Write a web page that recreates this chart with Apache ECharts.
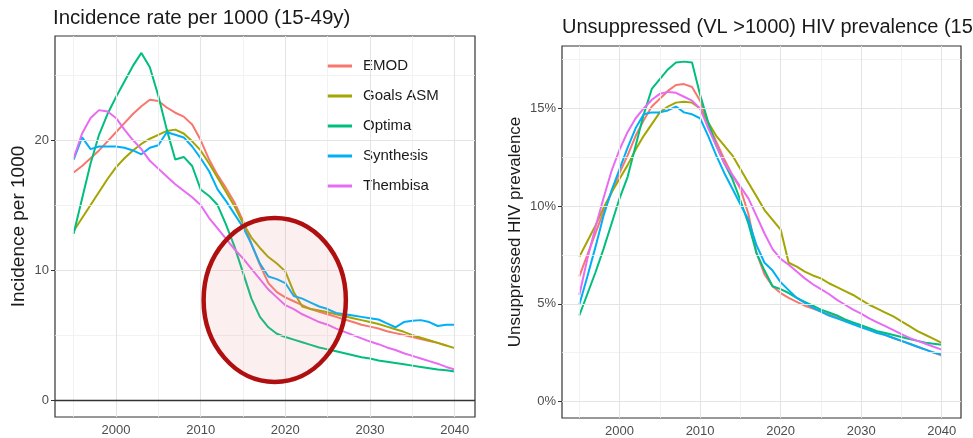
<!DOCTYPE html>
<html><head><meta charset="utf-8">
<script src="https://cdn.jsdelivr.net/npm/echarts@6/dist/echarts.min.js"></script>
<style>html,body{margin:0;padding:0;background:#fff}#c{width:973px;height:438px}</style>
</head><body><div id="c"></div><script>
const years = [1995,1996,1997,1998,1999,2000,2001,2002,2003,2004,2005,2006,2007,2008,2009,2010,2011,2012,2013,2014,2015,2016,2017,2018,2019,2020,2021,2022,2023,2024,2025,2026,2027,2028,2029,2030,2031,2032,2033,2034,2035,2036,2037,2038,2039,2040];
const seriesNames = ['EMOD','Goals ASM','Optima','Synthesis','Thembisa'];
const colors = ['#F8766D','#A3A500','#00BF7D','#00B0F6','#E76BF3'];

// Incidence rate per 1000 (15-49y)
const incEMOD = [17.5,18.0,18.6,19.2,19.9,20.6,21.3,22.0,22.6,23.1,23.0,22.5,22.1,21.8,21.2,20.0,18.5,17.3,16.3,15.2,13.8,12.0,10.4,9.0,8.3,7.9,7.6,7.3,7.0,6.8,6.6,6.4,6.2,6.0,5.8,5.65,5.5,5.3,5.15,5.0,4.85,4.7,4.55,4.4,4.2,null];
const incGoals = [13.0,14.0,15.0,16.0,17.0,17.9,18.6,19.2,19.7,20.1,20.4,20.7,20.8,20.5,19.9,19.2,18.2,17.1,16.0,14.9,13.6,12.5,11.7,11.0,10.5,9.9,8.3,7.2,7.0,6.9,6.75,6.6,6.45,6.3,6.15,6.0,5.85,5.65,5.45,5.25,5.0,4.8,4.6,4.4,4.2,4.0];
const incOptima = [12.8,15.5,18.2,20.4,22.0,23.3,24.5,25.7,26.7,25.6,23.4,20.8,18.5,18.7,18.0,16.2,15.7,15.0,13.5,11.8,9.8,7.8,6.4,5.6,5.1,4.85,4.65,4.45,4.25,4.05,3.9,3.75,3.6,3.45,3.3,3.2,3.05,2.95,2.85,2.75,2.65,2.55,2.45,2.35,2.3,2.2];
const incSynthesis = [18.5,20.2,19.3,19.5,19.5,19.5,19.4,19.2,18.9,19.4,19.6,20.6,20.4,20.2,19.5,18.6,17.6,16.2,15.3,14.3,13.3,12.0,10.5,9.5,9.3,9.0,8.0,7.8,7.5,7.2,7.0,6.7,6.6,6.5,6.4,6.3,6.2,5.9,5.6,6.0,6.1,6.15,6.0,5.7,5.8,5.8];
const incThembisa = [18.6,20.5,21.7,22.3,22.2,21.7,20.8,20.0,19.3,18.4,17.8,17.2,16.6,16.1,15.6,15.0,14.0,13.2,12.4,11.6,10.9,10.1,9.3,8.5,7.9,7.3,7.0,6.6,6.3,6.0,5.8,5.5,5.25,5.0,4.75,4.5,4.3,4.05,3.85,3.6,3.4,3.2,3.0,2.8,2.55,2.35];

// Unsuppressed (VL >1000) HIV prevalence, %
const prevEMOD = [6.4,7.5,8.6,9.7,10.7,11.7,12.6,13.6,14.4,15.1,15.5,15.9,16.2,16.25,16.1,15.4,14.2,13.3,12.4,11.6,10.9,9.6,7.6,6.5,5.9,5.55,5.3,5.1,4.9,4.75,4.6,4.45,4.3,4.15,4.0,3.85,3.7,3.55,3.4,3.25,3.1,2.95,2.8,2.65,2.5,2.35];
const prevGoals = [7.4,8.2,9.0,9.9,10.7,11.4,12.1,12.9,13.6,14.2,14.8,15.1,15.3,15.35,15.3,15.0,14.3,13.6,13.1,12.6,11.9,11.2,10.5,9.8,9.3,8.8,7.1,6.9,6.65,6.45,6.3,6.05,5.85,5.65,5.45,5.2,4.95,4.75,4.55,4.35,4.1,3.85,3.6,3.4,3.2,3.0];
const prevOptima = [4.4,5.5,6.6,7.8,9.1,10.4,11.5,13.1,14.7,16.0,16.5,17.0,17.35,17.4,17.35,15.7,14.3,13.1,12.2,11.4,10.3,9.1,7.6,6.7,5.9,5.75,5.55,5.3,5.1,4.9,4.7,4.55,4.4,4.2,4.05,3.9,3.75,3.6,3.5,3.4,3.3,3.2,3.1,3.0,2.95,2.9];
const prevSynthesis = [4.95,6.4,7.9,9.5,10.8,11.9,13.0,14.0,14.7,14.8,14.8,14.9,15.1,14.8,14.7,14.5,13.6,12.6,11.7,10.9,10.1,9.3,8.0,7.1,6.7,6.1,5.7,5.3,5.05,4.8,4.6,4.4,4.25,4.1,3.95,3.8,3.65,3.5,3.4,3.25,3.1,2.95,2.8,2.65,2.5,2.4];
const prevThembisa = [5.45,7.3,8.9,10.4,11.8,12.9,13.8,14.5,15.0,15.45,15.75,15.85,15.8,15.6,15.4,15.0,14.0,13.1,12.2,11.6,11.0,10.4,9.5,8.6,7.8,7.3,7.0,6.65,6.3,6.0,5.75,5.5,5.2,4.95,4.7,4.5,4.25,4.05,3.85,3.65,3.45,3.25,3.1,2.95,2.8,2.65];

const xTicks = [2000,2010,2020,2030,2040];
const xMinor = [1995,2005,2015,2025,2035];
const incTicks = [0,10,20];
const incMinor = [5,15,25];
const prevTicks = [0,5,10,15];
const prevMinor = [2.5,7.5,12.5,17.5];

const incData = [incEMOD,incGoals,incOptima,incSynthesis,incThembisa];
const prevData = [prevEMOD,prevGoals,prevOptima,prevSynthesis,prevThembisa];

const FONT = '"Liberation Sans", Arial, sans-serif';
const chart = echarts.init(document.getElementById('c'), null, {renderer:'canvas'});

function gridLines(idx, xMaj, xMin, yMaj, yMin, zeroDark) {
  const d = [];
  xMin.forEach(v => d.push({xAxis: v, lineStyle: {color:'#efefef', width:0.8, type:'solid'}}));
  yMin.forEach(v => d.push({yAxis: v, lineStyle: {color:'#efefef', width:0.8, type:'solid'}}));
  xMaj.forEach(v => d.push({xAxis: v, lineStyle: {color:'#e4e4e4', width:1.1, type:'solid'}}));
  yMaj.forEach(v => d.push({yAxis: v, lineStyle: zeroDark && v === 0 ? {color:'#333333', width:1.3, type:'solid'} : {color:'#e4e4e4', width:1.1, type:'solid'}}));
  return {
    type:'line', name:'_grid'+idx, xAxisIndex: idx, yAxisIndex: idx, data: [], silent: true, z: 1,
    markLine: {silent:true, symbol:['none','none'], label:{show:false}, animation:false, data: d}
  };
}

function mk(arr, i, g) {
  return {
    type:'line', name: seriesNames[i], xAxisIndex:g, yAxisIndex:g,
    data: years.map((y,k)=>[y, arr[k]]),
    symbol:'none', showSymbol:false, smooth:false, connectNulls:false, z: 3,
    lineStyle:{width:2, color: colors[i]}, itemStyle:{color: colors[i]},
    emphasis:{disabled:true}, animation:false
  };
}

const axisLabelStyle = {color:'#4d4d4d', fontSize:13, fontFamily: FONT};
const series = [gridLines(0, xTicks, xMinor, incTicks, incMinor, true), gridLines(1, xTicks, xMinor, prevTicks, prevMinor, false)];
incData.forEach((a,i)=>series.push(mk(a,i,0)));
prevData.forEach((a,i)=>series.push(mk(a,i,1)));

chart.setOption({
  animation:false,
  backgroundColor:'#ffffff',
  title: [
    {text:'Incidence rate per 1000 (15-49y)', left:53, top:8, padding:0, textStyle:{fontSize:20.5, fontWeight:'normal', color:'#1a1a1a', fontFamily:FONT}},
    {text:'Unsuppressed (VL >1000) HIV prevalence (15-49y)', left:562, top:17, padding:0, textStyle:{fontSize:20, fontWeight:'normal', color:'#1a1a1a', fontFamily:FONT}}
  ],
  legend: {
    data: seriesNames, orient:'vertical', left:327, top:58.5, padding:0, icon:'rect',
    itemWidth:25, itemHeight:3, itemGap:15,
    textStyle:{fontSize:15, color:'#1a1a1a', fontFamily:FONT, lineHeight:15, padding:[0,0,0,6]},
    selectedMode:false
  },
  grid: [
    {left:55, top:36, width:420, height:381, show:true, borderColor:'#333333', borderWidth:1.2, backgroundColor:'transparent', containLabel:false},
    {left:562, top:46, width:399, height:372, show:true, borderColor:'#333333', borderWidth:1.2, backgroundColor:'transparent', containLabel:false}
  ],
  xAxis: [
    {type:'value', gridIndex:0, min:1992.8, max:2042.4, axisLine:{show:false}, splitLine:{show:false},
     axisTick:{show:true, length:4, lineStyle:{color:'#333'}, customValues: xTicks},
     axisLabel:Object.assign({customValues: xTicks, margin:7, formatter: v => String(v)}, axisLabelStyle)},
    {type:'value', gridIndex:1, min:1992.85, max:2042.4, axisLine:{show:false}, splitLine:{show:false},
     axisTick:{show:true, length:4, lineStyle:{color:'#333'}, customValues: xTicks},
     axisLabel:Object.assign({customValues: xTicks, margin:7, formatter: v => String(v)}, axisLabelStyle)}
  ],
  yAxis: [
    {type:'value', gridIndex:0, min:-1.3, max:28.0, axisLine:{show:false}, splitLine:{show:false},
     axisTick:{show:true, length:4, lineStyle:{color:'#333'}, customValues: incTicks},
     axisLabel:Object.assign({customValues: incTicks, margin:6}, axisLabelStyle),
     name:'Incidence per 1000', nameLocation:'middle', nameGap:27, nameRotate:90,
     nameTextStyle:{fontSize:19, color:'#1a1a1a', fontFamily:FONT}},
    {type:'value', gridIndex:1, min:-0.85, max:18.2, axisLine:{show:false}, splitLine:{show:false},
     axisTick:{show:true, length:4, lineStyle:{color:'#333'}, customValues: prevTicks},
     axisLabel:Object.assign({customValues: prevTicks, margin:6, formatter: v => v + '%'}, axisLabelStyle),
     name:'Unsuppressed HIV prevalence', nameLocation:'middle', nameGap:38, nameRotate:90,
     nameTextStyle:{fontSize:17, color:'#1a1a1a', fontFamily:FONT}}
  ],
  series: series
});

// Highlight ellipse on the incidence panel (anchored in data space)
const ellCenter = [2018.75, 7.7];
const ellHalf = [8.4, 6.3];
const c = chart.convertToPixel({gridIndex:0}, ellCenter);
const e = chart.convertToPixel({gridIndex:0}, [ellCenter[0]+ellHalf[0], ellCenter[1]+ellHalf[1]]);
chart.setOption({
  graphic: [{
    type:'ellipse', z:100, silent:true,
    shape:{cx:c[0], cy:c[1], rx:Math.abs(e[0]-c[0]), ry:Math.abs(c[1]-e[1])},
    style:{fill:'rgba(225,140,140,0.14)', stroke:'#b00f0f', lineWidth:4.5}
  }]
});
</script></body></html>
